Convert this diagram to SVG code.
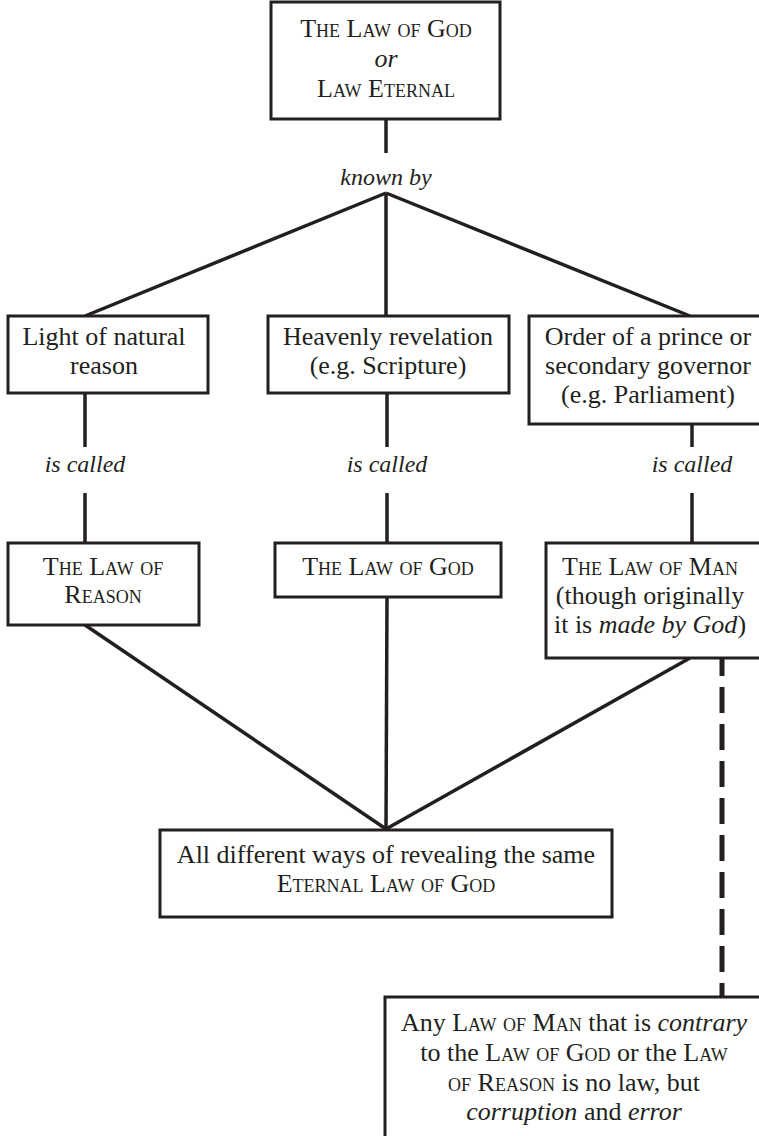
<svg xmlns="http://www.w3.org/2000/svg" width="759" height="1136" viewBox="0 0 759 1136" font-family="Liberation Serif, Times New Roman, Tinos, DejaVu Serif, Noto Serif, serif">
<style>
  .box { fill: #ffffff; stroke: #231f20; stroke-width: 3; }
  .ln { stroke: #231f20; stroke-width: 3.5; fill: none; stroke-linecap: butt; }
  .dash { stroke: #231f20; stroke-width: 5; fill: none; stroke-dasharray: 26 11; stroke-dashoffset: 8; }
  text { font-size: 26px; fill: #231f20; text-anchor: middle; }
  .sc { font-variant: small-caps; }
  .it { font-style: italic; }
  .lbl { font-style: italic; font-size: 24px; }
</style>
<rect width="759" height="1136" fill="#ffffff"/>
<g id="connectors">
  <line class="ln" x1="386" y1="119" x2="386" y2="153"/>
  <line class="ln" x1="386" y1="193" x2="85" y2="316"/>
  <line class="ln" x1="386" y1="193" x2="386" y2="316"/>
  <line class="ln" x1="386" y1="193" x2="690" y2="316"/>
  <line class="ln" x1="85" y1="393" x2="85" y2="447"/>
  <line class="ln" x1="85" y1="493" x2="85" y2="543"/>
  <line class="ln" x1="387" y1="393" x2="387" y2="447"/>
  <line class="ln" x1="387" y1="493" x2="387" y2="543"/>
  <line class="ln" x1="692" y1="424" x2="692" y2="447"/>
  <line class="ln" x1="692" y1="493" x2="692" y2="543"/>
  <line class="ln" x1="85" y1="625" x2="386" y2="829"/>
  <line class="ln" x1="387" y1="597" x2="386" y2="829"/>
  <line class="ln" x1="690" y1="658" x2="386" y2="829"/>
  <line class="dash" x1="722" y1="658" x2="722" y2="997"/>
  <text class="lbl" x="386" y="185" font-size="26">known by</text>
  <text class="lbl" x="85" y="472">is called</text>
  <text class="lbl" x="387" y="472">is called</text>
  <text class="lbl" x="692" y="472">is called</text>
</g>
<g id="law-eternal">
  <rect class="box" x="271" y="2" width="229" height="117"/>
  <text class="sc" x="386" y="37">The Law of God</text>
  <text class="it" x="386" y="67" font-size="22">or</text>
  <text class="sc" x="386" y="97">Law Eternal</text>
</g>
<g id="natural-reason">
  <rect class="box" x="8" y="316" width="200" height="77"/>
  <text x="104" y="345">Light of natural</text>
  <text x="104" y="374">reason</text>
</g>
<g id="heavenly-revelation">
  <rect class="box" x="268" y="316" width="241" height="77"/>
  <text x="388" y="345">Heavenly revelation</text>
  <text x="388" y="374">(e.g. Scripture)</text>
</g>
<g id="order-of-prince">
  <rect class="box" x="529" y="316" width="237" height="108"/>
  <text x="648" y="345">Order of a prince or</text>
  <text x="648" y="374">secondary governor</text>
  <text x="648" y="403">(e.g. Parliament)</text>
</g>
<g id="law-of-reason">
  <rect class="box" x="8" y="543" width="191" height="82"/>
  <text class="sc" x="103" y="575">The Law of</text>
  <text class="sc" x="103" y="603">Reason</text>
</g>
<g id="law-of-god">
  <rect class="box" x="275" y="543" width="226" height="54"/>
  <text class="sc" x="388" y="575">The Law of God</text>
</g>
<g id="law-of-man">
  <rect class="box" x="546" y="543" width="219" height="115"/>
  <text class="sc" x="650" y="575">The Law of Man</text>
  <text x="650" y="604">(though originally</text>
  <text x="650" y="633">it is <tspan class="it">made by God</tspan>)</text>
</g>
<g id="eternal-law">
  <rect class="box" x="160" y="830" width="452" height="87"/>
  <text x="386" y="863">All different ways of revealing the same</text>
  <text class="sc" x="386" y="892">Eternal Law of God</text>
</g>
<g id="corruption">
  <rect class="box" x="385" y="997" width="380" height="150"/>
  <text x="574" y="1031">Any <tspan class="sc">Law of Man</tspan> that is <tspan class="it">contrary</tspan></text>
  <text x="574" y="1061">to the <tspan class="sc">Law of God</tspan> or the <tspan class="sc">Law</tspan></text>
  <text x="574" y="1091"><tspan class="sc">of Reason</tspan> is no law, but</text>
  <text x="574" y="1120"><tspan class="it">corruption</tspan> and <tspan class="it">error</tspan></text>
</g>
</svg>
